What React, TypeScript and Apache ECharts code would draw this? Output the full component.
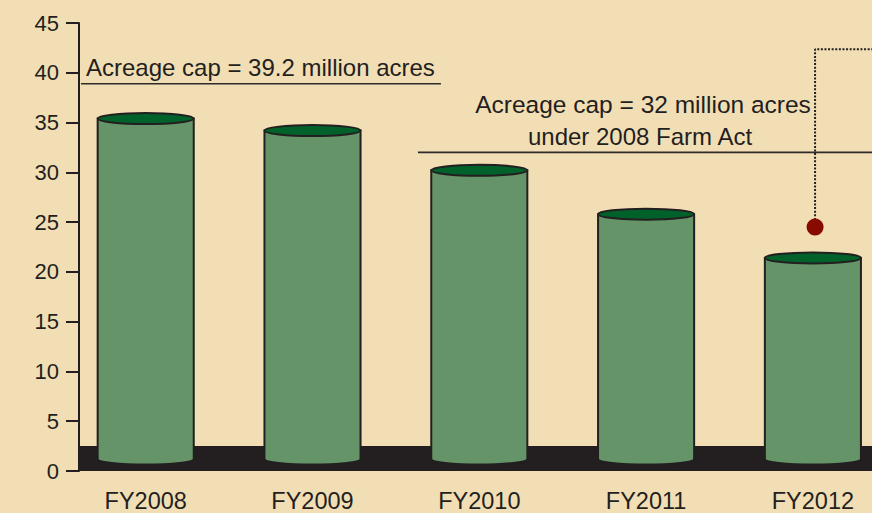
import React, { useEffect, useRef } from "react";
import * as echarts from "echarts";

// ---- data ----
const categories = ["FY2008", "FY2009", "FY2010", "FY2011", "FY2012"];
const acres = [35.4, 34.2, 30.2, 25.8, 21.4]; // million acres enrolled
const yMin = 0;
const yMax = 45;
const yStep = 5;
const oldCapLevel = 38.9; // drawn line for the 39.2 million acre cap
const oldCapSpan = [0.112, 2.27]; // in category units (value x-axis)
const newCapLevel = 32;
const newCapSpan = [2.132, 5];
const projectedX = 4.513;
const projectedValue = 24.5;
const calloutTop = 42.36;
const calloutRight = 5;
const groundBand = [0.1, 5, 0, 2.5]; // x0, x1, y0, y1
const barBase = 1.2;

const INK = "#231f20";
const FONT = "Liberation Sans, Arial, Helvetica, sans-serif";

export default function App() {
  const ref = useRef<HTMLDivElement>(null);
  useEffect(() => {
    if (!ref.current) return;
    const chart = echarts.init(ref.current, null, { renderer: "svg" });
    const option: any = {
      animation: false,
      backgroundColor: "#f2deb4",
      textStyle: { fontFamily: FONT },
      grid: {
        left: 62.3,
        right: -24.3,
        top: 23,
        bottom: 42,
        containLabel: false,
        outerBoundsMode: "none",
      },
      xAxis: [
        {
          type: "category",
          data: categories,
          boundaryGap: true,
          axisLine: { show: false },
          axisTick: { show: false },
          axisLabel: { color: INK, fontSize: 23.5, fontFamily: FONT, margin: 18 },
        },
        { type: "value", min: 0, max: 5, show: false },
      ],
      yAxis: {
        type: "value",
        min: yMin,
        max: yMax,
        interval: yStep,
        offset: -16.7,
        axisLine: { show: true, lineStyle: { color: INK, width: 2 } },
        axisTick: { show: true, length: 13, lineStyle: { color: INK, width: 2 } },
        axisLabel: { color: INK, fontSize: 22, fontFamily: FONT, margin: 20 },
        splitLine: { show: false },
      },
      series: [
        {
          type: "line",
          xAxisIndex: 1,
          data: [],
          z: 1,
          silent: true,
          markArea: {
            silent: true,
            itemStyle: { color: INK, opacity: 1 },
            data: [[{ coord: [groundBand[0], groundBand[2]] }, { coord: [groundBand[1], groundBand[3]] }]],
          },
        },
        {
          type: "custom",
          xAxisIndex: 0,
          z: 3,
          data: categories.map((_, i) => [i, acres[i]]),
          renderItem: (params: any, api: any) => {
            const i = api.value(0);
            const v = api.value(1);
            const top = api.coord([i, v]);
            const base = api.coord([i, barBase]);
            const w = api.size([1, 0])[0] * 0.576;
            const rx = w / 2;
            const ry = 5.5;
            const x0 = top[0] - rx;
            const x1 = top[0] + rx;
            return {
              type: "group",
              children: [
                {
                  type: "path",
                  shape: {
                    pathData: `M${x0} ${top[1]} L${x0} ${base[1]} A${rx} ${ry} 0 0 0 ${x1} ${base[1]} L${x1} ${top[1]} Z`,
                  },
                  style: { fill: "#649467", stroke: INK, lineWidth: 2 },
                },
                {
                  type: "ellipse",
                  shape: { cx: top[0], cy: top[1], rx, ry },
                  style: { fill: "#00622a", stroke: INK, lineWidth: 2 },
                },
              ],
            };
          },
        },
        {
          type: "line",
          xAxisIndex: 1,
          z: 2,
          symbol: "none",
          silent: true,
          lineStyle: { color: "#2e2a2b", width: 1.6 },
          data: [
            [oldCapSpan[0], oldCapLevel],
            [oldCapSpan[1], oldCapLevel],
          ],
        },
        {
          type: "line",
          xAxisIndex: 1,
          z: 2,
          symbol: "none",
          silent: true,
          lineStyle: { color: "#2e2a2b", width: 1.6 },
          data: [
            [newCapSpan[0], newCapLevel],
            [newCapSpan[1], newCapLevel],
          ],
        },
        {
          type: "line",
          xAxisIndex: 1,
          z: 4,
          symbol: "none",
          silent: true,
          lineStyle: { color: INK, width: 2, type: [2, 1.6] },
          data: [
            [projectedX, projectedValue],
            [projectedX, calloutTop],
            [calloutRight, calloutTop],
          ],
        },
        {
          type: "scatter",
          xAxisIndex: 1,
          z: 5,
          symbol: "circle",
          symbolSize: 17,
          itemStyle: { color: "#880b02", opacity: 1 },
          data: [[projectedX, projectedValue]],
        },
      ],
      graphic: [
        {
          type: "text",
          x: 86,
          y: 67,
          style: {
            text: "Acreage cap = 39.2 million acres",
            fill: INK,
            fontSize: 24,
            fontFamily: FONT,
            align: "left",
            verticalAlign: "middle",
          },
        },
        {
          type: "text",
          x: 643,
          y: 104,
          style: {
            text: "Acreage cap = 32 million acres",
            fill: INK,
            fontSize: 24.5,
            fontFamily: FONT,
            align: "center",
            verticalAlign: "middle",
          },
        },
        {
          type: "text",
          x: 640,
          y: 136,
          style: {
            text: "under 2008 Farm Act",
            fill: INK,
            fontSize: 24,
            fontFamily: FONT,
            align: "center",
            verticalAlign: "middle",
          },
        },
      ],
    };
    chart.setOption(option);
    return () => chart.dispose();
  }, []);
  return (
    <div
      ref={ref}
      style={{ position: "fixed", left: 0, top: 0, width: 872, height: 513 }}
    />
  );
}
